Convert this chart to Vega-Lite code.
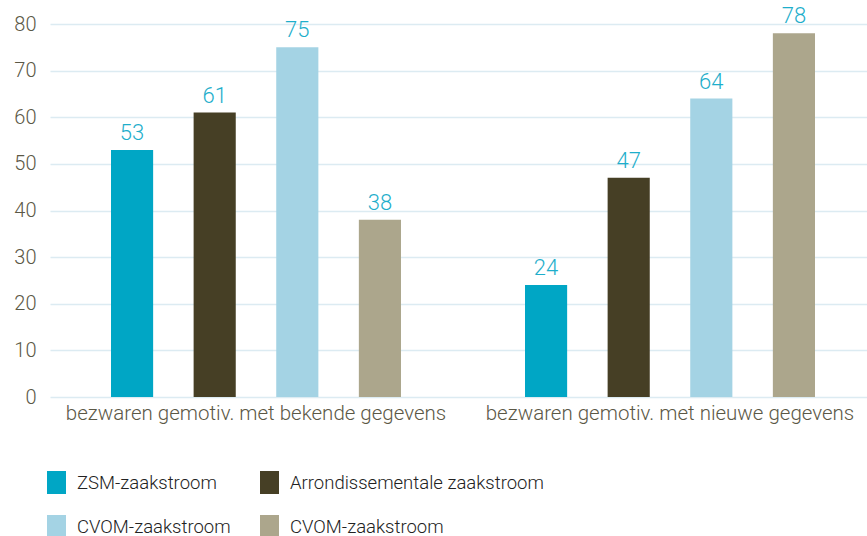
{
  "$schema": "https://vega.github.io/schema/vega-lite/v6.json",
  "width": 817,
  "height": 373,
  "padding": {"left": 13, "top": 5, "right": 0, "bottom": 0},
  "background": "white",
  "config": {
    "font": "Roboto",
    "view": {"stroke": null}
  },
  "data": {
    "values": [
      {"categorie": "bezwaren gemotiv. met bekende gegevens", "reeks": "ZSM-zaakstroom", "waarde": 53},
      {"categorie": "bezwaren gemotiv. met bekende gegevens", "reeks": "Arrondissementale zaakstroom", "waarde": 61},
      {"categorie": "bezwaren gemotiv. met bekende gegevens", "reeks": "CVOM-zaakstroom (1)", "waarde": 75},
      {"categorie": "bezwaren gemotiv. met bekende gegevens", "reeks": "CVOM-zaakstroom (2)", "waarde": 38},
      {"categorie": "bezwaren gemotiv. met nieuwe gegevens", "reeks": "ZSM-zaakstroom", "waarde": 24},
      {"categorie": "bezwaren gemotiv. met nieuwe gegevens", "reeks": "Arrondissementale zaakstroom", "waarde": 47},
      {"categorie": "bezwaren gemotiv. met nieuwe gegevens", "reeks": "CVOM-zaakstroom (1)", "waarde": 64},
      {"categorie": "bezwaren gemotiv. met nieuwe gegevens", "reeks": "CVOM-zaakstroom (2)", "waarde": 78}
    ]
  },
  "encoding": {
    "x": {
      "field": "categorie",
      "type": "nominal",
      "sort": null,
      "scale": {"paddingInner": 0.1, "paddingOuter": 0.0367, "align": 0.648},
      "axis": {
        "title": null,
        "labelAngle": 0,
        "labelFontSize": 20.5,
        "labelFontWeight": 300,
        "labelLimit": 500,
        "labelColor": "#5b5846",
        "labelPadding": 6,
        "ticks": false,
        "domain": false
      }
    },
    "xOffset": {
      "field": "reeks",
      "type": "nominal",
      "sort": ["ZSM-zaakstroom", "Arrondissementale zaakstroom", "CVOM-zaakstroom (1)", "CVOM-zaakstroom (2)"],
      "scale": {"paddingInner": 0.49, "paddingOuter": 0.5}
    },
    "y": {
      "field": "waarde",
      "type": "quantitative",
      "scale": {"domain": [0, 80]},
      "axis": {
        "title": null,
        "values": [0, 10, 20, 30, 40, 50, 60, 70, 80],
        "labelFontSize": 20,
        "labelFontWeight": 300,
        "labelColor": "#5b5846",
        "labelPadding": 14,
        "ticks": false,
        "domain": false,
        "gridColor": "#dcebf2",
        "gridWidth": 1.5
      }
    }
  },
  "layer": [
    {
      "mark": {"type": "bar"},
      "encoding": {
        "color": {
          "field": "reeks",
          "type": "nominal",
          "scale": {
            "domain": ["ZSM-zaakstroom", "Arrondissementale zaakstroom", "CVOM-zaakstroom (1)", "CVOM-zaakstroom (2)"],
            "range": ["#00a6c5", "#463f25", "#a4d3e4", "#aca68c"]
          },
          "legend": {
            "title": null,
            "orient": "bottom",
            "direction": "horizontal",
            "columns": 2,
            "offset": 47,
            "labelFontSize": 18.5,
            "labelFontWeight": 300,
            "labelColor": "#222222",
            "labelOffset": 4,
            "columnPadding": 29,
            "rowPadding": 21,
            "symbolType": "M-1.26,-1H0.39V1H-1.26Z",
            "symbolSize": 529,
            "symbolStrokeWidth": 0,
            "labelLimit": 400,
            "labelExpr": "indexof(datum.label, 'CVOM') == 0 ? 'CVOM-zaakstroom' : datum.label"
          }
        }
      }
    },
    {
      "mark": {"type": "text", "baseline": "bottom", "dy": -5, "fontSize": 22, "fontWeight": 300, "color": "#1eaecb"},
      "encoding": {
        "text": {"field": "waarde", "type": "quantitative"}
      }
    }
  ]
}
